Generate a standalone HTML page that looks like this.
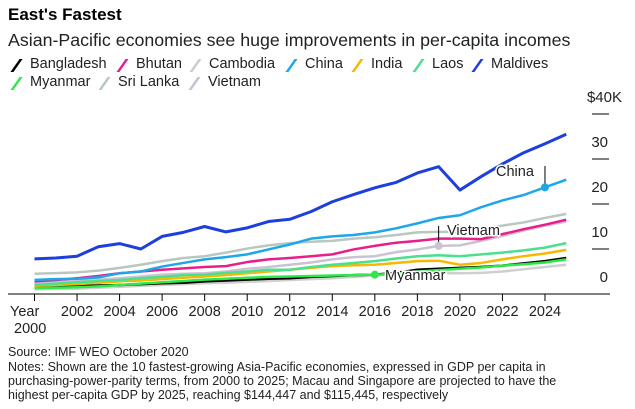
<!DOCTYPE html>
<html><head><meta charset="utf-8">
<style>
body{margin:0;background:#fff;font-family:"Liberation Sans",sans-serif;color:#000;}
#wrap{position:relative;width:635px;height:409px;overflow:hidden;}
.t{position:absolute;white-space:nowrap;}
#title{left:8px;top:5px;font-size:17px;font-weight:bold;}
#sub{left:8px;top:30px;font-size:17.8px;color:#222;}
.le{position:absolute;font-size:14.5px;color:#222;white-space:nowrap;}
.le i{position:absolute;left:-15px;top:3px;width:3px;height:13px;transform:skewX(-35deg);}
.foot{position:absolute;left:8px;font-size:12.5px;color:#222;white-space:nowrap;}
svg{position:absolute;left:0;top:0;}
</style></head><body>
<div id="wrap">
<div id="title" class="t">East's Fastest</div>
<div id="sub" class="t">Asian-Pacific economies see huge improvements in per-capita incomes</div>
<div>
<span class="le" style="left:30px;top:56px"><i style="background:#000"></i>Bangladesh</span>
<span class="le" style="left:136px;top:56px"><i style="background:#e91e8c"></i>Bhutan</span>
<span class="le" style="left:209px;top:56px"><i style="background:#ccc"></i>Cambodia</span>
<span class="le" style="left:305px;top:56px"><i style="background:#1ea7e8"></i>China</span>
<span class="le" style="left:371px;top:56px"><i style="background:#f8b800"></i>India</span>
<span class="le" style="left:432px;top:56px"><i style="background:#4be08f"></i>Laos</span>
<span class="le" style="left:491px;top:56px"><i style="background:#1d3fdc"></i>Maldives</span>
<span class="le" style="left:30px;top:74px"><i style="background:#2ee84a"></i>Myanmar</span>
<span class="le" style="left:118px;top:74px"><i style="background:#b8c8c0"></i>Sri Lanka</span>
<span class="le" style="left:208px;top:74px"><i style="background:#c8c0d0"></i>Vietnam</span>
</div>
<svg id="chart" width="635" height="409"></svg>
<div class="foot" style="top:345px">Source: IMF WEO October 2020</div>
<div class="foot" style="top:360px;line-height:14px">Notes: Shown are the 10 fastest-growing Asia-Pacific economies, expressed in GDP per capita in<br>purchasing-power-parity terms, from 2000 to 2025; Macau and Singapore are projected to have the<br>highest per-capita GDP by 2025, reaching $144,447 and $115,445, respectively</div>
</div>
<script>
const years=[2000,2001,2002,2003,2004,2005,2006,2007,2008,2009,2010,2011,2012,2013,2014,2015,2016,2017,2018,2019,2020,2021,2022,2023,2024,2025];
const maldives=[7.8,8.0,8.4,10.5,11.2,10.0,12.8,13.7,15.0,13.8,14.7,16.1,16.6,18.3,20.5,22.1,23.6,24.8,26.9,28.3,23.1,26.1,28.9,31.4,33.4,35.5];
const china=[3.15,3.3,3.4,3.7,4.6,5.0,6.1,6.9,7.7,8.2,8.8,9.9,11.0,12.3,12.8,13.1,13.7,14.6,15.7,16.9,17.5,19.3,20.8,22.0,23.7,25.4];
const sriLanka=[4.5,4.65,4.8,5.2,5.8,6.5,7.3,8.0,8.4,9.2,10.1,10.8,11.3,11.6,11.8,12.3,12.6,13.1,13.7,13.8,13.8,14.4,15.2,15.9,16.9,17.8];
const bhutan=[2.8,3.1,3.5,4.0,4.6,5.0,5.4,5.7,6.0,6.2,7.1,7.7,8.0,8.4,8.8,9.9,10.7,11.4,11.8,12.3,12.3,12.2,13.3,14.4,15.4,16.5];
const vietnam=[2.4,2.6,2.9,3.2,3.5,3.9,4.3,4.5,4.6,5.0,5.6,6.0,6.5,7.0,7.7,8.2,8.4,9.3,9.9,10.7,10.8,11.8,12.9,14.1,15.2,16.1];
const laos=[2.0,2.3,2.6,2.9,3.1,3.5,3.8,4.2,4.3,4.7,5.0,5.4,5.4,6.0,6.5,6.9,7.3,7.9,8.4,8.6,8.4,8.8,9.2,9.7,10.3,11.3];
const india=[1.8,2.0,2.2,2.5,2.8,3.0,3.3,3.6,3.9,4.2,4.6,5.0,5.4,5.8,6.2,6.4,6.5,6.9,7.3,7.4,6.5,6.9,7.7,8.4,9.0,9.8];
const bangladesh=[1.6,1.7,1.8,1.9,2.0,2.2,2.4,2.5,2.8,3.0,3.2,3.4,3.5,3.8,4.0,4.2,4.3,4.7,5.4,5.6,5.8,6.0,6.3,6.8,7.3,8.0];
const myanmar=[1.3,1.4,1.5,1.7,2.0,2.3,2.6,2.9,3.2,3.4,3.6,3.8,3.9,4.0,4.1,4.2,4.3,4.5,5.0,5.3,5.6,5.9,6.3,6.6,7.0,7.7];
const cambodia=[1.04,1.1,1.2,1.4,1.6,1.8,2.0,2.2,2.4,2.5,2.7,2.9,3.1,3.3,3.5,3.8,4.1,4.3,4.5,4.6,4.6,4.7,5.0,5.5,6.0,6.5];
const yTicks=[0,10,20,30,40];
const yTickLabels=["0","10","20","30","$40K"];
const xTicks=[2000,2002,2004,2006,2008,2010,2012,2014,2016,2018,2020,2022,2024];

const svg=document.getElementById('chart');
const NS='http://www.w3.org/2000/svg';
const x=yr=>34.5+(yr-2000)*21.27;
const y=v=>294-v*4.5;
function mk(tag,attrs){const e=document.createElementNS(NS,tag);for(const k in attrs)e.setAttribute(k,attrs[k]);svg.appendChild(e);return e;}

yTicks.forEach((t,i)=>{
  const g=mk('line',{x1:592,x2:609,y1:y(t),y2:y(t),stroke:'#000','stroke-width':1});
  
  
  if(t===0)g.setAttribute('stroke-opacity','0');
  const lb=mk('text',{x:i===4?622:608,y:y(t)-12,'text-anchor':'end','font-size':15,fill:'#222','font-family':'Liberation Sans'});
  lb.textContent=yTickLabels[i];
  
  
});
const ax=mk('line',{x1:8,x2:610,y1:294,y2:294,stroke:'#000','stroke-width':1});


xTicks.forEach(t=>{
  const tk=mk('line',{x1:x(t),x2:x(t),y1:294,y2:301,stroke:'#000','stroke-width':1});
  
  
  const lb=mk('text',{x:t===2000?10:x(t),y:316,'text-anchor':t===2000?'start':'middle','font-size':14.5,fill:'#222','font-family':'Liberation Sans'});
  lb.textContent=t===2000?'Year':String(t);
  
  
});
const l2=mk('text',{x:14,y:333,'font-size':14.5,fill:'#222','font-family':'Liberation Sans'});
l2.textContent='2000';



const series=[
 ['cambodia',cambodia,'#cfcfcf'],['vietnam',vietnam,'#cbc3d3'],['sri-lanka',sriLanka,'#b8c8c0'],
 ['bangladesh',bangladesh,'#000'],['india',india,'#f8b800'],['laos',laos,'#4be08f'],
 ['bhutan',bhutan,'#e91e8c'],['myanmar',myanmar,'#2ee84a'],['china',china,'#1ea7e8'],['maldives',maldives,'#1d3fdc']];
series.forEach(([n,d,c])=>{
  const p=mk('polyline',{points:d.map((v,i)=>x(years[i])+','+y(v)).join(' '),fill:'none',stroke:c,'stroke-width':n==='maldives'?3:2.5,'stroke-linejoin':'round'});
  
  
});
function annot(name,yr,arr,c,label,lx,ly,line){
  const i=years.indexOf(yr);
  if(line){const ln=mk('line',{x1:x(yr),x2:x(yr),y1:line[0],y2:line[1],stroke:'#000','stroke-width':1});
    
    }
  const m=mk('circle',{cx:x(yr),cy:y(arr[i]),r:4,fill:c});
  
  
  const t=mk('text',{x:lx,y:ly,'font-size':14.5,fill:'#222','font-family':'Liberation Sans',stroke:'#fff','stroke-width':3,'paint-order':'stroke'});
  t.textContent=label;
  
  
}
annot('china',2024,china,'#1ea7e8','China',496,176,[166,y(china[24])]);
annot('vietnam',2019,vietnam,'#cbc3d3','Vietnam',447,235,[226,y(vietnam[19])]);
annot('myanmar',2016,myanmar,'#2ee84a','Myanmar',385,280,null);
</script>
</body></html>
